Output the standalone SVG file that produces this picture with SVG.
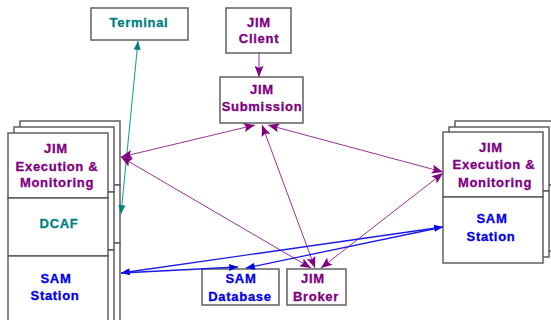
<svg xmlns="http://www.w3.org/2000/svg" width="551" height="320" viewBox="0 0 551 320">
<defs>
<style>
.box{fill:#fff;stroke:#555;stroke-width:1.4}
.t{font-family:"Liberation Sans",Arial,sans-serif;font-weight:bold;font-size:13px;letter-spacing:0.7px;text-anchor:middle;stroke-width:0.3px}
.p{fill:#800080;stroke:#800080}.g{fill:#008080;stroke:#008080}.b{fill:#0000e6;stroke:#0000e6}
.lp{stroke:#993399;stroke-width:1;fill:none}
.lg{stroke:#20a0a0;stroke-width:1.1;fill:none}
.lb{stroke:#1a1ae6;stroke-width:1.3;fill:none}
</style>
<marker id="ap" viewBox="0 0 10 8" refX="10" refY="4" markerWidth="12" markerHeight="9" markerUnits="userSpaceOnUse" orient="auto-start-reverse"><path d="M0,0L10,4L0,8L2,4z" fill="#800080"/></marker>
<marker id="ag" viewBox="0 0 10 8" refX="10" refY="4" markerWidth="11" markerHeight="7" markerUnits="userSpaceOnUse" orient="auto-start-reverse"><path d="M0,0L10,4L0,8z" fill="#008080"/></marker>
<marker id="ab" viewBox="0 0 10 8" refX="10" refY="4" markerWidth="11" markerHeight="7" markerUnits="userSpaceOnUse" orient="auto-start-reverse"><path d="M0,0L10,4L0,8z" fill="#0000e6"/></marker>
</defs>
<rect width="551" height="320" fill="#fff"/>

<g id="left-stack">
<rect class="box" x="20" y="121" width="100" height="64"/>
<rect class="box" x="20" y="185" width="100" height="58"/>
<rect class="box" x="20" y="243" width="100" height="90"/>
<rect class="box" x="14" y="127" width="100" height="65"/>
<rect class="box" x="14" y="192" width="100" height="58"/>
<rect class="box" x="14" y="250" width="100" height="90"/>
<g id="left-exec">
<rect class="box" x="8" y="133" width="100" height="65"/>
<text class="t p" x="56" y="153">JIM</text>
<text class="t p" x="57" y="171">Execution &amp;</text>
<text class="t p" x="57" y="187">Monitoring</text>
</g>
<g id="dcaf">
<rect class="box" x="8" y="198" width="100" height="58"/>
<text class="t g" x="59" y="228">DCAF</text>
</g>
<g id="left-sam">
<rect class="box" x="8" y="256" width="100" height="80"/>
<text class="t b" x="56" y="283">SAM</text>
<text class="t b" x="55" y="300">Station</text>
</g>
</g>

<g id="right-stack">
<rect class="box" x="455" y="121" width="106" height="64"/>
<rect class="box" x="455" y="185" width="106" height="66"/>
<rect class="box" x="449" y="127" width="100" height="64"/>
<rect class="box" x="449" y="191" width="100" height="66"/>
<g id="right-exec">
<rect class="box" x="443" y="132" width="100" height="65"/>
<text class="t p" x="491" y="152">JIM</text>
<text class="t p" x="494" y="169">Execution &amp;</text>
<text class="t p" x="495" y="187">Monitoring</text>
</g>
<g id="right-sam">
<rect class="box" x="443" y="197" width="100" height="66"/>
<text class="t b" x="492" y="223">SAM</text>
<text class="t b" x="491" y="241">Station</text>
</g>
</g>

<g id="terminal">
<rect class="box" x="91" y="8" width="97" height="32"/>
<text class="t g" x="139" y="27">Terminal</text>
</g>
<g id="jim-client">
<rect class="box" x="226" y="8" width="65" height="45"/>
<text class="t p" x="259" y="27">JIM</text>
<text class="t p" x="259" y="43">Client</text>
</g>
<g id="jim-submission">
<rect class="box" x="220" y="77" width="83" height="46"/>
<text class="t p" x="262" y="94">JIM</text>
<text class="t p" x="262" y="111">Submission</text>
</g>
<g id="sam-database">
<rect class="box" x="202" y="269" width="77" height="36"/>
<text class="t b" x="241" y="283">SAM</text>
<text class="t b" x="240" y="301">Database</text>
</g>
<g id="jim-broker">
<rect class="box" x="287" y="269" width="59" height="36"/>
<text class="t p" x="313" y="283">JIM</text>
<text class="t p" x="316" y="301">Broker</text>
</g>

<g id="connectors">
<line class="lp" x1="259" y1="53" x2="259" y2="77" marker-end="url(#ap)"/>
<line class="lg" x1="138" y1="41" x2="121" y2="214" marker-start="url(#ag)" marker-end="url(#ag)"/>
<line class="lp" x1="121" y1="157" x2="255" y2="125" marker-start="url(#ap)" marker-end="url(#ap)"/>
<line class="lp" x1="443" y1="172" x2="268" y2="125" marker-start="url(#ap)" marker-end="url(#ap)"/>
<line class="lp" x1="262" y1="125" x2="315" y2="268" marker-start="url(#ap)" marker-end="url(#ap)"/>
<line class="lp" x1="121" y1="157" x2="311" y2="268" marker-start="url(#ap)" marker-end="url(#ap)"/>
<line class="lp" x1="443" y1="173" x2="321" y2="268" marker-start="url(#ap)" marker-end="url(#ap)"/>
<line class="lb" x1="121" y1="273" x2="443" y2="227" marker-start="url(#ab)" marker-end="url(#ab)"/>
<line class="lb" x1="121" y1="273" x2="238" y2="267" marker-end="url(#ab)"/>
<line class="lb" x1="443" y1="227" x2="246" y2="268" marker-end="url(#ab)"/>
</g>
</svg>
